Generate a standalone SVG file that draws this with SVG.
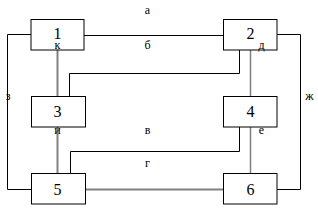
<svg xmlns="http://www.w3.org/2000/svg" width="318" height="212" viewBox="0 0 318 212">
<style>
.box{fill:#fff;stroke:#000;stroke-width:1}
.k{fill:none;stroke:#000;stroke-width:1}
.g{fill:none;stroke:#808080;stroke-width:2}
.n{font-family:"Liberation Serif",serif;font-size:16px;text-anchor:middle;fill:#000}
.l{font-family:"Liberation Serif",serif;font-size:12px;text-anchor:middle;fill:#000}
</style>
<rect width="318" height="212" fill="#fff"/>
<g id="connectors">
<polyline class="k" points="31,34.5 7.5,34.5 7.5,189.5 31,189.5"/>
<polyline class="k" points="277,34.5 300.5,34.5 300.5,189.5 277,189.5"/>
<line class="k" x1="84" y1="35.5" x2="223" y2="35.5"/>
<polyline class="k" points="69.5,96 69.5,73.5 239.5,73.5 239.5,50"/>
<polyline class="k" points="70.5,173 70.5,151.5 239.5,151.5 239.5,127"/>
<line class="g" x1="57.5" y1="50" x2="57.5" y2="96"/>
<line class="g" x1="57.5" y1="127" x2="57.5" y2="173"/>
<line class="g" x1="250.5" y1="50" x2="250.5" y2="96" style="stroke-width:1.5"/>
<line class="g" x1="250.5" y1="127" x2="250.5" y2="173" style="stroke-width:1.5"/>
<line class="g" x1="85" y1="189.5" x2="223" y2="189.5"/>
</g>
<g id="node1"><rect class="box" x="31" y="19.5" width="53" height="30.5"/><text class="n" x="57.5" y="39">1</text></g>
<g id="node2"><rect class="box" x="223.5" y="19.5" width="53.5" height="30.5"/><text class="n" x="250.5" y="39">2</text></g>
<g id="node3"><rect class="box" x="31.5" y="96.5" width="54" height="30.5"/><text class="n" x="57.5" y="117">3</text></g>
<g id="node4"><rect class="box" x="223.5" y="96.5" width="53.5" height="30.5"/><text class="n" x="250.5" y="117">4</text></g>
<g id="node5"><rect class="box" x="31.5" y="173.5" width="54" height="30.5"/><text class="n" x="57.5" y="195">5</text></g>
<g id="node6"><rect class="box" x="223.5" y="173.5" width="53.5" height="30.5"/><text class="n" x="250.5" y="195">6</text></g>
<g id="labels">
<text class="l" x="147.5" y="14">а</text>
<text class="l" x="147.5" y="48.5">б</text>
<text class="l" x="57.5" y="49">к</text>
<text class="l" x="261.5" y="48.5">д</text>
<text class="l" x="8" y="100">з</text>
<text class="l" x="309.5" y="100">ж</text>
<text class="l" x="57.5" y="134">и</text>
<text class="l" x="147.5" y="134">в</text>
<text class="l" x="261.5" y="134">е</text>
<text class="l" x="147.5" y="167">г</text>
</g>
</svg>
